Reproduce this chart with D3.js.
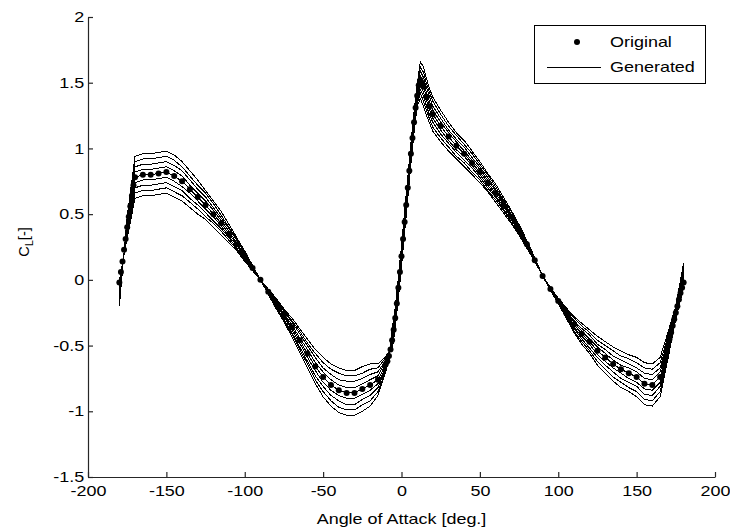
<!DOCTYPE html>
<html><head><meta charset="utf-8">
<script src="https://cdn.jsdelivr.net/npm/d3@7"></script>
<style>
body{margin:0;background:#fff;}
svg text{font-family:"Liberation Sans",Arial,sans-serif;fill:#000;}
</style>
</head><body>
<svg id="chart" width="730" height="529"></svg>
<script>
// ---- data ----
const origAngles = [
-180,-179,-178,-177,-176,-175,-174,-173,-172,-171,-170,
-165,-160,-155,-150,-145,-140,-135,-130,-125,-120,-115,-110,-105,-100,-95,-90,-85,-80,-75,-70,-65,-60,-55,-50,-45,-40,-35,-30,-25,-20,-15,
-10,-9,-8,-7,-6,-5,-4,-3,-2,-1,0,1,2,3,4,5,6,7,8,9,10,11,12,13,14,
16,18,20,
25,30,35,40,45,50,55,60,65,70,75,80,85,90,95,100,105,110,115,120,125,130,135,140,145,150,155,160,165,
170,171,172,173,174,175,176,177,178,179,180];
const original = [
-0.02,0.06,0.14,0.23,0.31,0.40,0.48,0.56,0.64,0.72,0.78,
0.80,0.80,0.81,0.82,0.79,0.75,0.69,0.63,0.57,0.50,0.43,0.35,0.27,0.18,0.09,0.00,-0.09,-0.18,-0.27,-0.36,-0.46,-0.56,-0.66,-0.74,-0.80,-0.84,-0.86,-0.86,-0.83,-0.80,-0.76,
-0.64,-0.62,-0.58,-0.53,-0.46,-0.38,-0.29,-0.18,-0.06,0.06,0.18,0.31,0.44,0.57,0.70,0.83,0.96,1.08,1.20,1.31,1.40,1.48,1.52,1.50,1.47,
1.39,1.32,1.26,
1.17,1.09,1.02,0.96,0.89,0.82,0.74,0.66,0.57,0.48,0.38,0.27,0.15,0.03,-0.07,-0.16,-0.25,-0.34,-0.41,-0.47,-0.54,-0.59,-0.64,-0.68,-0.71,-0.74,-0.79,-0.80,-0.74,
-0.50,-0.45,-0.40,-0.35,-0.30,-0.25,-0.20,-0.15,-0.10,-0.06,-0.02];

const angles = [
-180,-175,-170,-165,-160,-155,-150,-145,-140,-135,
-130,-125,-120,-115,-110,-105,-100,-95,-90,-85,
-80,-75,-70,-65,-60,-55,-50,-45,-40,-35,
-30,-25,-20,-15,-10,-8,-6,-4,-2,0,
2,4,6,8,10,12,14,16,18,20,
25,30,35,40,45,50,55,60,65,70,
75,80,85,90,95,100,105,110,115,120,
125,130,135,140,145,150,155,160,165,170,
175,180];
const gen1 = [
-0.01,0.32,0.62,0.64,0.64,0.65,0.66,0.63,0.60,0.55,
0.50,0.46,0.40,0.34,0.28,0.22,0.14,0.07,0,-0.07,
-0.14,-0.22,-0.29,-0.37,-0.45,-0.53,-0.59,-0.64,-0.67,-0.69,
-0.69,-0.66,-0.64,-0.64,-0.58,-0.55,-0.54,-0.37,-0.14,0.10,
0.36,0.62,0.88,1.12,1.32,1.38,1.32,1.25,1.19,1.13,
1.05,0.98,0.92,0.86,0.80,0.74,0.67,0.59,0.51,0.43,
0.34,0.24,0.14,0.03,-0.06,-0.14,-0.21,-0.28,-0.33,-0.38,
-0.43,-0.47,-0.51,-0.54,-0.57,-0.59,-0.63,-0.64,-0.59,-0.40,
-0.20,0.13];
const gen2 = [
-0.03,0.34,0.66,0.68,0.68,0.69,0.70,0.67,0.64,0.59,
0.54,0.48,0.43,0.37,0.30,0.23,0.15,0.08,0,-0.08,
-0.15,-0.23,-0.31,-0.39,-0.48,-0.56,-0.63,-0.68,-0.71,-0.73,
-0.73,-0.71,-0.68,-0.67,-0.59,-0.55,-0.52,-0.35,-0.12,0.12,
0.38,0.64,0.90,1.14,1.34,1.42,1.36,1.29,1.22,1.16,
1.08,1.01,0.94,0.89,0.82,0.76,0.68,0.61,0.53,0.44,
0.35,0.25,0.14,0.03,-0.07,-0.14,-0.22,-0.29,-0.35,-0.40,
-0.46,-0.50,-0.54,-0.58,-0.60,-0.63,-0.67,-0.68,-0.63,-0.43,
-0.21,0.11];
const gen3 = [
-0.05,0.36,0.70,0.72,0.72,0.73,0.74,0.71,0.68,0.62,
0.57,0.51,0.45,0.39,0.32,0.24,0.16,0.08,0,-0.08,
-0.16,-0.24,-0.32,-0.41,-0.50,-0.59,-0.67,-0.72,-0.76,-0.77,
-0.77,-0.75,-0.72,-0.70,-0.61,-0.56,-0.50,-0.33,-0.10,0.14,
0.40,0.66,0.92,1.16,1.36,1.45,1.40,1.32,1.25,1.20,
1.11,1.04,0.97,0.91,0.85,0.78,0.70,0.63,0.54,0.46,
0.36,0.26,0.14,0.03,-0.07,-0.15,-0.23,-0.31,-0.37,-0.42,
-0.49,-0.53,-0.58,-0.61,-0.64,-0.67,-0.71,-0.72,-0.67,-0.45,
-0.23,0.09];
const gen4 = [
-0.07,0.38,0.74,0.76,0.76,0.77,0.78,0.75,0.71,0.66,
0.60,0.54,0.48,0.41,0.33,0.26,0.17,0.09,0,-0.09,
-0.17,-0.26,-0.34,-0.44,-0.53,-0.63,-0.70,-0.76,-0.80,-0.82,
-0.82,-0.79,-0.76,-0.73,-0.62,-0.57,-0.48,-0.31,-0.08,0.16,
0.42,0.68,0.94,1.18,1.38,1.49,1.43,1.36,1.29,1.23,
1.14,1.06,0.99,0.94,0.87,0.80,0.72,0.64,0.56,0.47,
0.37,0.26,0.15,0.03,-0.07,-0.15,-0.24,-0.32,-0.39,-0.45,
-0.51,-0.56,-0.61,-0.65,-0.67,-0.70,-0.75,-0.76,-0.70,-0.48,
-0.24,0.07];
const gen5 = [
-0.09,0.40,0.78,0.80,0.80,0.81,0.82,0.79,0.75,0.69,
0.63,0.57,0.50,0.43,0.35,0.27,0.18,0.09,0,-0.09,
-0.18,-0.27,-0.36,-0.46,-0.56,-0.66,-0.74,-0.80,-0.84,-0.86,
-0.86,-0.83,-0.80,-0.76,-0.64,-0.58,-0.46,-0.29,-0.06,0.18,
0.44,0.70,0.96,1.20,1.40,1.52,1.47,1.39,1.32,1.26,
1.17,1.09,1.02,0.96,0.89,0.82,0.74,0.66,0.57,0.48,
0.38,0.27,0.15,0.03,-0.07,-0.16,-0.25,-0.34,-0.41,-0.47,
-0.54,-0.59,-0.64,-0.68,-0.71,-0.74,-0.79,-0.80,-0.74,-0.50,
-0.25,0.05];
const gen6 = [
-0.11,0.42,0.82,0.84,0.84,0.85,0.86,0.83,0.79,0.72,
0.66,0.60,0.53,0.45,0.37,0.28,0.19,0.09,0,-0.09,
-0.19,-0.28,-0.38,-0.48,-0.59,-0.69,-0.78,-0.84,-0.88,-0.90,
-0.90,-0.87,-0.84,-0.79,-0.66,-0.59,-0.44,-0.27,-0.04,0.20,
0.46,0.72,0.98,1.22,1.42,1.55,1.51,1.42,1.35,1.29,
1.20,1.12,1.05,0.98,0.91,0.84,0.76,0.68,0.58,0.49,
0.39,0.28,0.15,0.03,-0.07,-0.17,-0.26,-0.36,-0.43,-0.49,
-0.57,-0.62,-0.67,-0.71,-0.75,-0.78,-0.83,-0.84,-0.78,-0.53,
-0.26,0.03];
const gen7 = [
-0.14,0.44,0.86,0.88,0.88,0.89,0.90,0.87,0.83,0.76,
0.69,0.63,0.55,0.47,0.39,0.30,0.20,0.10,0,-0.10,
-0.20,-0.30,-0.40,-0.51,-0.62,-0.73,-0.81,-0.88,-0.92,-0.95,
-0.95,-0.91,-0.88,-0.82,-0.67,-0.60,-0.42,-0.25,-0.02,0.22,
0.48,0.74,1.00,1.24,1.44,1.59,1.54,1.46,1.39,1.32,
1.23,1.14,1.07,1.01,0.93,0.86,0.78,0.69,0.60,0.50,
0.40,0.28,0.16,0.03,-0.07,-0.17,-0.27,-0.37,-0.45,-0.52,
-0.59,-0.65,-0.70,-0.75,-0.78,-0.81,-0.87,-0.88,-0.81,-0.55,
-0.28,0.01];
const gen8 = [
-0.17,0.46,0.90,0.92,0.92,0.93,0.94,0.91,0.86,0.79,
0.72,0.66,0.58,0.49,0.40,0.31,0.21,0.10,0,-0.10,
-0.21,-0.31,-0.41,-0.53,-0.64,-0.76,-0.85,-0.92,-0.97,-0.99,
-0.99,-0.95,-0.92,-0.85,-0.69,-0.61,-0.40,-0.23,0.00,0.24,
0.50,0.76,1.02,1.26,1.46,1.62,1.58,1.49,1.42,1.36,
1.26,1.17,1.10,1.03,0.96,0.88,0.80,0.71,0.61,0.52,
0.41,0.29,0.16,0.03,-0.08,-0.18,-0.28,-0.39,-0.47,-0.54,
-0.62,-0.68,-0.74,-0.78,-0.82,-0.85,-0.91,-0.92,-0.85,-0.58,
-0.29,-0.02];
const gen9 = [
-0.20,0.48,0.94,0.96,0.96,0.97,0.98,0.95,0.90,0.83,
0.76,0.68,0.60,0.52,0.42,0.32,0.22,0.11,0,-0.11,
-0.22,-0.32,-0.43,-0.55,-0.67,-0.79,-0.89,-0.96,-1.01,-1.03,
-1.03,-1.00,-0.96,-0.88,-0.70,-0.61,-0.38,-0.21,0.02,0.26,
0.52,0.78,1.04,1.28,1.48,1.66,1.62,1.53,1.45,1.39,
1.29,1.20,1.12,1.06,0.98,0.90,0.81,0.73,0.63,0.53,
0.42,0.30,0.17,0.03,-0.08,-0.18,-0.29,-0.40,-0.49,-0.56,
-0.65,-0.71,-0.77,-0.82,-0.85,-0.89,-0.95,-0.96,-0.89,-0.60,
-0.30,-0.05];
const xTicks = [-200,-150,-100,-50,0,50,100,150,200];
const yTicks = [-1.5,-1,-0.5,0,0.5,1,1.5,2];
const legendLabels = ["Original","Generated"];
const xLabel = "Angle of Attack [deg.]";

// ---- drawing ----
const SX = 1.23; // horizontal text stretch seen in reference
const svg = d3.select("#chart");
svg.append("rect").attr("width",730).attr("height",529).attr("fill","#fff");

const x = d3.scaleLinear().domain([-200,200]).range([88,715]);
const y = d3.scaleLinear().domain([-1.5,2]).range([477,17]);

const generated = [gen1,gen2,gen3,gen4,gen5,gen6,gen7,gen8,gen9];
const line = d3.line().x(d=>x(d[0])).y(d=>y(d[1]));

const plot = svg.append("g");
generated.forEach(g=>{
  plot.append("path")
    .datum(angles.map((a,i)=>[a,g[i]]))
    .attr("d",line)
    .attr("fill","none")
    .attr("stroke","#000")
    .attr("stroke-width",1)
    .attr("shape-rendering","crispEdges");
});
plot.selectAll("circle.orig")
  .data(origAngles.map((a,i)=>[a,original[i]]))
  .join("circle")
  .attr("class","orig")
  .attr("cx",d=>x(d[0])).attr("cy",d=>y(d[1]))
  .attr("r",3).attr("fill","#000");

// axes
const fmt = d=>String(d);
const gx = svg.append("g").attr("transform","translate(0,477)")
  .call(d3.axisBottom(x).tickValues(xTicks).tickFormat(fmt).tickSizeInner(-5).tickSizeOuter(0).tickPadding(9));
const gy = svg.append("g").attr("transform","translate(88,0)")
  .call(d3.axisLeft(y).tickValues(yTicks).tickFormat(fmt).tickSizeInner(-5).tickSizeOuter(0).tickPadding(3));
[gx,gy].forEach(g=>{
  g.select(".domain").attr("stroke","#262626").attr("stroke-width",1.2);
  g.selectAll(".tick line").attr("stroke","#262626").attr("stroke-width",1.2);
  g.selectAll(".tick text").attr("font-size",14.6)
    .attr("font-family","'Liberation Sans',Arial,sans-serif")
    .attr("fill","#000")
    .attr("transform",`scale(${SX},1)`);
});

// axis labels
svg.append("text")
  .attr("transform",`translate(${x(0)},524) scale(${SX},1)`)
  .attr("text-anchor","middle").attr("font-size",14.6)
  .text(xLabel);
const yl = svg.append("text")
  .attr("transform","translate(29,242) rotate(-90)")
  .attr("text-anchor","middle").attr("font-size",14.6);
yl.append("tspan").text("C");
yl.append("tspan").attr("dy",4).attr("font-size",11).text("L");
yl.append("tspan").attr("dy",-4).text("[-]");

// legend
const lg = svg.append("g");
lg.append("rect").attr("x",534.5).attr("y",25.5).attr("width",171).attr("height",58)
  .attr("fill","#fff").attr("stroke","#000").attr("stroke-width",1);
lg.append("circle").attr("cx",577).attr("cy",42).attr("r",3).attr("fill","#000");
lg.append("line").attr("x1",547).attr("x2",601).attr("y1",67.5).attr("y2",67.5)
  .attr("stroke","#000").attr("stroke-width",1);
legendLabels.forEach((t,i)=>{
  lg.append("text").attr("transform",`translate(610,${47+i*25}) scale(${SX},1)`)
    .attr("font-size",14.6).text(t);
});
</script>
</body></html>
